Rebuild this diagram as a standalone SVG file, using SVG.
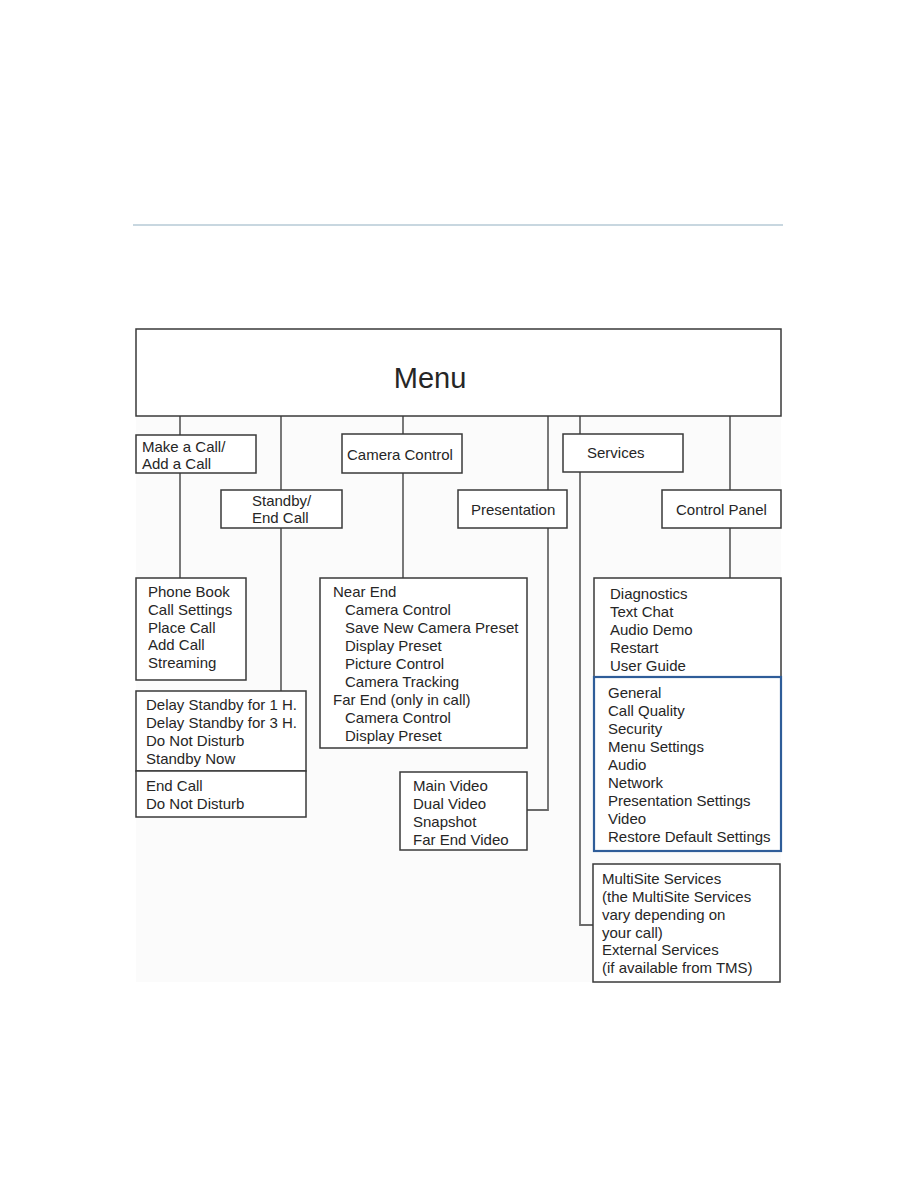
<svg xmlns="http://www.w3.org/2000/svg" width="918" height="1188" viewBox="0 0 918 1188">
<style>
.bx{fill:#fff;stroke:#3a3a3a;stroke-width:1.5}
.bl{fill:#fff;stroke:#2f5d99;stroke-width:2.2}
.cn{fill:none;stroke:#6a6a6a;stroke-width:1.8}
text{font-family:"Liberation Sans",Arial,sans-serif;font-size:15px;fill:#262626}
</style>
<rect width="918" height="1188" fill="#fff"/>
<line x1="133" y1="225" x2="783" y2="225" stroke="#b6cad6" stroke-width="1.5"/>
<rect x="136" y="329" width="645" height="653" fill="#fbfbfb"/>
<g id="connectors">
<path class="cn" d="M180 416V578"/>
<path class="cn" d="M281 416V691"/>
<path class="cn" d="M403 416V578"/>
<path class="cn" d="M548 416V810H527"/>
<path class="cn" d="M580 416V925H593"/>
<path class="cn" d="M730 416V578"/>
</g>
<g id="menu"><rect class="bx" x="136" y="329" width="645" height="87"/><text x="430" y="388" font-size="29" text-anchor="middle" style="font-size:29px">Menu</text></g>
<g id="make-call"><rect class="bx" x="136" y="435" width="120" height="38"/><text x="142" y="452">Make a Call/</text><text x="142" y="469">Add a Call</text></g>
<g id="camera-control"><rect class="bx" x="342" y="434" width="120" height="39"/><text x="347" y="460">Camera Control</text></g>
<g id="standby"><rect class="bx" x="221" y="490" width="121" height="38"/><text x="252" y="506">Standby/</text><text x="252" y="523">End Call</text></g>
<g id="presentation"><rect class="bx" x="458" y="490" width="109" height="38"/><text x="471" y="515">Presentation</text></g>
<g id="services"><rect class="bx" x="563" y="434" width="120" height="38"/><text x="587" y="458">Services</text></g>
<g id="control-panel"><rect class="bx" x="662" y="490" width="119" height="38"/><text x="676" y="515">Control Panel</text></g>
<g id="call-items"><rect class="bx" x="136" y="578" width="110" height="102"/>
<text x="148" y="597">Phone Book</text><text x="148" y="615">Call Settings</text><text x="148" y="633">Place Call</text><text x="148" y="650">Add Call</text><text x="148" y="668">Streaming</text></g>
<g id="standby-items"><rect class="bx" x="136" y="691" width="170" height="80"/>
<text x="146" y="710">Delay Standby for 1 H.</text><text x="146" y="728">Delay Standby for 3 H.</text><text x="146" y="746">Do Not Disturb</text><text x="146" y="764">Standby Now</text></g>
<g id="endcall-items"><rect class="bx" x="136" y="771" width="170" height="46"/>
<text x="146" y="791">End Call</text><text x="146" y="809">Do Not Disturb</text></g>
<g id="camera-items"><rect class="bx" x="320" y="578" width="207" height="170"/>
<text x="333" y="597">Near End</text><text x="345" y="615">Camera Control</text><text x="345" y="633">Save New Camera Preset</text><text x="345" y="651">Display Preset</text><text x="345" y="669">Picture Control</text><text x="345" y="687">Camera Tracking</text><text x="333" y="705">Far End (only in call)</text><text x="345" y="723">Camera Control</text><text x="345" y="741">Display Preset</text></g>
<g id="presentation-items"><rect class="bx" x="400" y="772" width="127" height="78"/>
<text x="413" y="791">Main Video</text><text x="413" y="809">Dual Video</text><text x="413" y="827">Snapshot</text><text x="413" y="845">Far End Video</text></g>
<g id="control-items"><rect class="bx" x="594" y="578" width="187" height="99"/>
<text x="610" y="599">Diagnostics</text><text x="610" y="617">Text Chat</text><text x="610" y="635">Audio Demo</text><text x="610" y="653">Restart</text><text x="610" y="671">User Guide</text></g>
<g id="settings-items"><rect class="bl" x="594" y="677" width="187" height="174"/>
<text x="608" y="698">General</text><text x="608" y="716">Call Quality</text><text x="608" y="734">Security</text><text x="608" y="752">Menu Settings</text><text x="608" y="770">Audio</text><text x="608" y="788">Network</text><text x="608" y="806">Presentation Settings</text><text x="608" y="824">Video</text><text x="608" y="842">Restore Default Settings</text></g>
<g id="services-items"><rect class="bx" x="593" y="864" width="187" height="118"/>
<text x="602" y="884">MultiSite Services</text><text x="602" y="902">(the MultiSite Services</text><text x="602" y="920">vary depending on</text><text x="602" y="938">your call)</text><text x="602" y="955">External Services</text><text x="602" y="973">(if available from TMS)</text></g>
</svg>
